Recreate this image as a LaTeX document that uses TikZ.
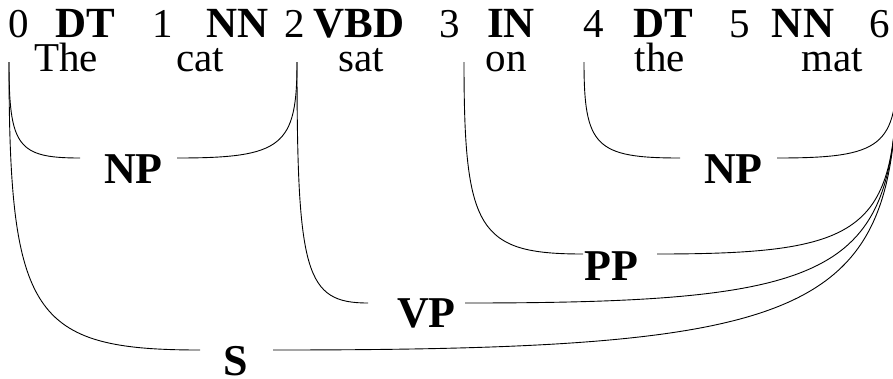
\documentclass[tikz,border=0pt]{standalone}
\usepackage{fontspec}
\setmainfont{Liberation Serif}
\usetikzlibrary{calc}
\tikzset{
  idx/.style={inner sep=0pt, anchor=base, text height=0.68em, text depth=0pt, font=\fontsize{41}{46}\selectfont},
  tag/.style={inner sep=0pt, anchor=base, text height=0.68em, text depth=0pt, font=\fontsize{43}{48}\selectfont\bfseries},
  word/.style={inner sep=0pt, anchor=base, text height=0.68em, text depth=0.2em, font=\fontsize{41}{46}\selectfont},
  cat/.style={inner sep=0pt, anchor=base, text height=0.68em, text depth=0pt, font=\fontsize{44}{50}\selectfont\bfseries},
  brk/.style={line width=0.9pt, black}
}
\newcommand\brkcurve[2]{\draw[brk] (#1) .. controls ($(#1)!0.88!(#1|-#2)$) and ($(#2)!0.88!(#1|-#2)$) .. (#2);}
\begin{document}
\begin{tikzpicture}[x=1pt, y=-1pt]
\useasboundingbox (0,0) rectangle (893,378);
\clip (0,0) rectangle (893,378);
% top row: positions and tags
\node[idx] (n0) at (18.5,37.5) {0};
\node[tag] (t1) at (85,37.5) {DT};
\node[idx] (n1) at (163,37.5) {1};
\node[tag] (t2) at (238,37.5) {NN};
\node[idx] (n2) at (295,37.5) {2};
\node[tag] (t3) at (359,37.5) {VBD};
\node[idx] (n3) at (450,37.5) {3};
\node[tag] (t4) at (511,37.5) {IN};
\node[idx] (n4) at (594,37.5) {4};
\node[tag] (t5) at (663,37.5) {DT};
\node[idx] (n5) at (740,37.5) {5};
\node[tag] (t6) at (803,37.5) {NN};
\node[idx] (n6) at (880,37.5) {6};
% words
\node[word] (w1) at (66,71.5) {The};
\node[word] (w2) at (200,71.5) {cat};
\node[word] (w3) at (361,71.5) {sat};
\node[word] (w4) at (506,71.5) {on};
\node[word] (w5) at (660,71.5) {the};
\node[word] (w6) at (832,71.5) {mat};
% constituent labels
\node[cat] (np1) at (133.5,183) {NP};
\node[cat] (np2) at (733.5,183) {NP};
\node[cat] (pp) at (611,280) {PP};
\node[cat] (vp) at (426.5,327) {VP};
\node[cat] (s) at (235.5,375) {S};
% boundary points under the positions
\coordinate (b0) at (9,62);
\coordinate (b2) at (297,62);
\coordinate (b3) at (464,62);
\coordinate (b4) at (584,62);
\coordinate (b6) at (897,62);
% line ends beside the labels
\coordinate (np1l) at ([shift={(-53.5,-25)}]np1.base);
\coordinate (np1r) at ([shift={(43.5,-25)}]np1.base);
\coordinate (np2l) at ([shift={(-53.5,-25)}]np2.base);
\coordinate (np2r) at ([shift={(43.5,-25)}]np2.base);
\coordinate (ppl) at ([shift={(-28,-26)}]pp.base);
\coordinate (ppr) at ([shift={(46,-26)}]pp.base);
\coordinate (vpl) at ([shift={(-58.5,-24)}]vp.base);
\coordinate (vpr) at ([shift={(38.5,-24)}]vp.base);
\coordinate (sl) at ([shift={(-35.5,-25)}]s.base);
\coordinate (sr) at ([shift={(37.5,-25)}]s.base);
% brackets
\brkcurve{b0}{np1l}
\brkcurve{b2}{np1r}
\brkcurve{b4}{np2l}
\brkcurve{b6}{np2r}
\brkcurve{b3}{ppl}
\brkcurve{b6}{ppr}
\brkcurve{b2}{vpl}
\brkcurve{b6}{vpr}
\brkcurve{b0}{sl}
\brkcurve{b6}{sr}
\end{tikzpicture}
\end{document}
